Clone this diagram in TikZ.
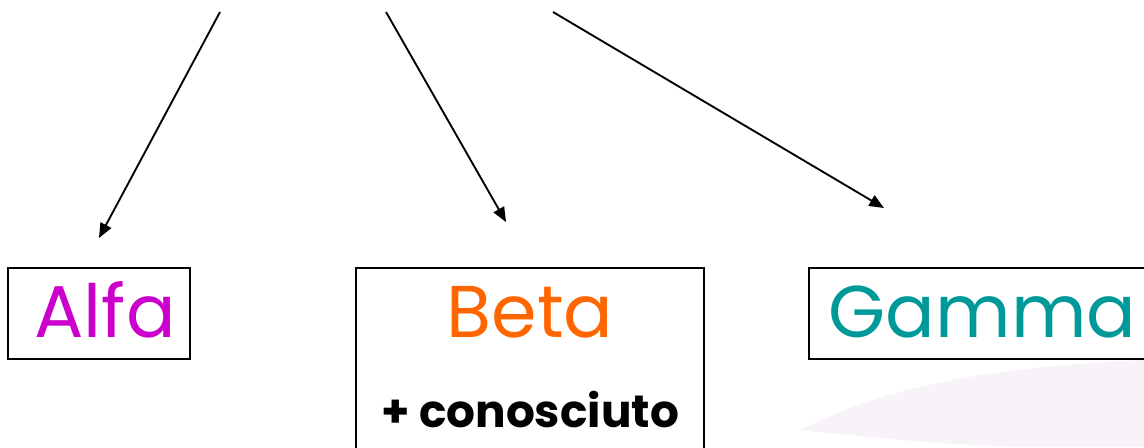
\documentclass[tikz,border=0pt]{standalone}
\usepackage{fontspec}
\setmainfont{Poppins}
\usetikzlibrary{positioning,arrows.meta}
\definecolor{alfaMagenta}{RGB}{204,0,204}
\definecolor{betaOrange}{RGB}{255,102,0}
\definecolor{gammaTeal}{RGB}{0,153,153}
\definecolor{softLilac}{RGB}{248,243,248}

\begin{document}
\begin{tikzpicture}[x=0.75pt,y=-0.75pt,>={Triangle[length=11pt,width=9pt]},line width=1.4pt,every node/.style={align=center,inner sep=0pt}]
\useasboundingbox (0,0) rectangle (1144,447);
% faint background blob
\fill[softLilac] (800,430) .. controls (870,395) and (960,368) .. (1144,360) -- (1144,447) -- (1020,447) .. controls (930,443) .. (800,430);
\node[draw,minimum width=136.5pt,minimum height=68.25pt] (alfa) at (99,313.5) {};
\node[draw,minimum width=261pt,minimum height=151.5pt] (beta) at (530,369) {};
\node[draw,minimum width=260.25pt,minimum height=68.25pt] (gamma) at (982.5,313.5) {};
\node[anchor=base,text=alfaMagenta,font=\fontsize{55}{58}\selectfont] (alfaName) at (105,337) {Alfa};
\node[anchor=base,text=betaOrange,font=\fontsize{55}{58}\selectfont] (betaName) at (530,337) {Beta};
\node[anchor=base,font=\bfseries\fontsize{34}{38}\selectfont] (betaNote) at (530,427) {+ conosciuto};
\node[anchor=base,text=gammaTeal,font=\fontsize{55}{58}\selectfont] (gammaName) at (982.5,337) {Gamma};
\coordinate (srcA) at (220,12); \coordinate (srcB) at (386,12); \coordinate (srcC) at (553,12);
\coordinate (endA) at (99,238); \coordinate (endB) at (506,222); \coordinate (endC) at (884,208);
\draw[->] (srcA)--(endA);\draw[->] (srcB)--(endB);\draw[->] (srcC)--(endC);
\end{tikzpicture}
\end{document}
